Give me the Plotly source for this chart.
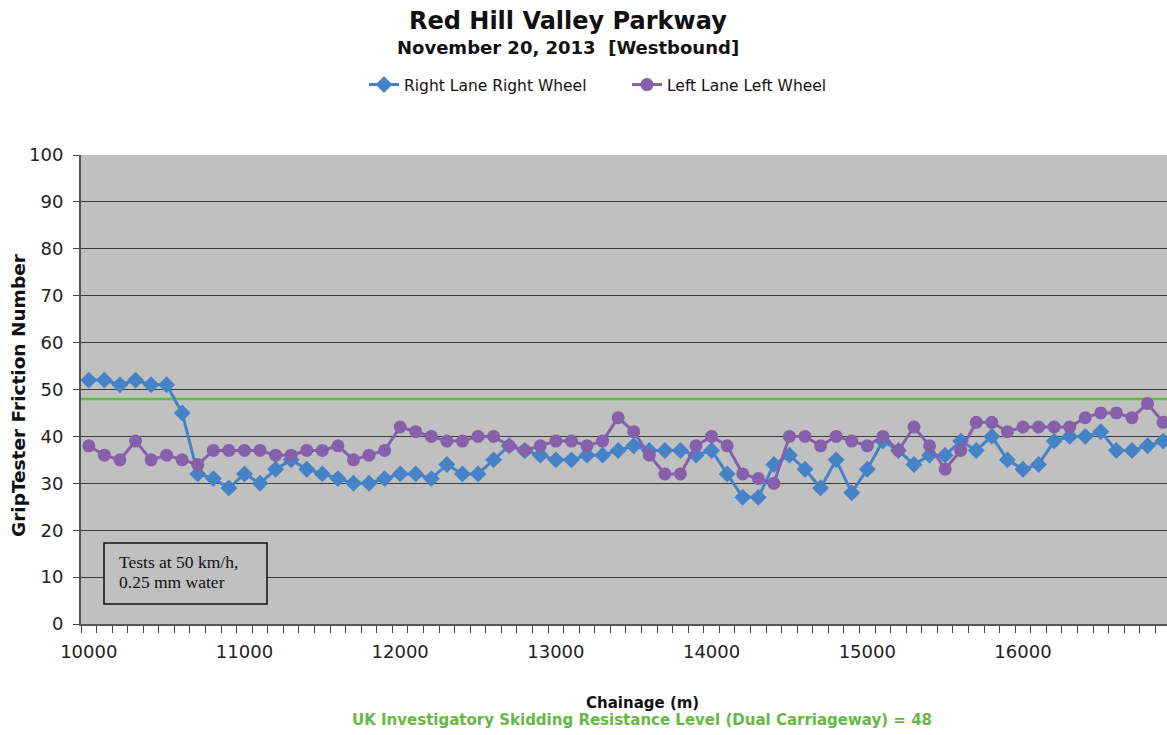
"""
GripTester friction chart, Red Hill Valley Parkway (westbound).
"""

import plotly.graph_objects as go

# Chainage categories, one reading every 100 m
chainage = list(range(10000, 17000, 100))
tick_values = [10000, 11000, 12000, 13000, 14000, 15000, 16000]

right_lane_right_wheel = [
    52, 52, 51, 52, 51, 51, 45, 32, 31, 29,
    32, 30, 33, 35, 33, 32, 31, 30, 30, 31,
    32, 32, 31, 34, 32, 32, 35, 38, 37, 36,
    35, 35, 36, 36, 37, 38, 37, 37, 37, 36,
    37, 32, 27, 27, 34, 36, 33, 29, 35, 28,
    33, 39, 37, 34, 36, 36, 39, 37, 40, 35,
    33, 34, 39, 40, 40, 41, 37, 37, 38, 39,
]
left_lane_left_wheel = [
    38, 36, 35, 39, 35, 36, 35, 34, 37, 37,
    37, 37, 36, 36, 37, 37, 38, 35, 36, 37,
    42, 41, 40, 39, 39, 40, 40, 38, 37, 38,
    39, 39, 38, 39, 44, 41, 36, 32, 32, 38,
    40, 38, 32, 31, 30, 40, 40, 38, 40, 39,
    38, 40, 37, 42, 38, 33, 37, 43, 43, 41,
    42, 42, 42, 42, 44, 45, 45, 44, 47, 43,
]
investigatory_level = 48

BLUE = "#4683c6"
PURPLE = "#8560ab"
GREEN = "#5cbf3c"
FONT = "DejaVu Sans"

# plot area in pixels: left 81, bottom 624, width 1086, height 469
def px(x):
    return (x - 81) / 1086


def py(y):
    return (624 - y) / 469


fig = go.Figure()

fig.add_trace(go.Scatter(
    x=chainage, y=right_lane_right_wheel, name="Right Lane Right Wheel",
    mode="lines+markers",
    line=dict(color=BLUE, width=3),
    marker=dict(symbol="diamond", size=13, color=BLUE),
))
fig.add_trace(go.Scatter(
    x=chainage, y=left_lane_left_wheel, name="Left Lane Left Wheel",
    mode="lines+markers",
    line=dict(color=PURPLE, width=3),
    marker=dict(symbol="circle", size=13, color=PURPLE),
))

# UK investigatory level line (below the data)
fig.add_hline(y=investigatory_level, line=dict(color=GREEN, width=2.5), layer="below")

# Test conditions box
fig.add_shape(type="rect", xref="paper", yref="paper",
              x0=px(104), x1=px(267), y0=py(604), y1=py(543),
              line=dict(color="#111111", width=1.5), fillcolor="#c0c0c0", layer="above")

annotations = [
    dict(text="<b>Red Hill Valley Parkway</b>", x=px(568), y=py(21),
         font=dict(size=24, color="#111111")),
    dict(text="<b>November 20, 2013&nbsp;&nbsp;[Westbound]</b>", x=px(568), y=py(48),
         font=dict(size=18, color="#111111")),
    dict(text="<b>GripTester Friction Number</b>", x=px(18), y=py(395),
         textangle=-90, font=dict(size=18.5, color="#111111")),
    dict(text="<b>Chainage (m)</b>", x=px(642), y=py(703),
         font=dict(size=15, color="#111111")),
    dict(text="<b>UK Investigatory Skidding Resistance Level (Dual Carriageway) = 48</b>",
         x=px(642), y=py(720), font=dict(size=15, color="#66b846")),
    dict(text="Tests at 50 km/h,", x=px(117), y=py(562), xanchor="left",
         font=dict(family="Liberation Serif", size=17.5, color="#111111")),
    dict(text="0.25 mm water", x=px(117), y=py(582), xanchor="left",
         font=dict(family="Liberation Serif", size=17.5, color="#111111")),
]
for a in annotations:
    a.setdefault("xanchor", "center")
    fig.add_annotation(xref="paper", yref="paper", yanchor="middle", showarrow=False, **a)

fig.update_layout(
    width=1167, height=735,
    margin=dict(l=81, r=0, t=155, b=111),
    paper_bgcolor="white",
    plot_bgcolor="#c0c0c0",
    font=dict(family=FONT, color="#222222"),
    showlegend=True,
    legend=dict(
        orientation="h", x=px(364), xanchor="left",
        y=py(85), yanchor="middle",
        font=dict(size=15.5, color="#111111"),
        entrywidth=218, entrywidthmode="pixels",
        bgcolor="rgba(0,0,0,0)",
    ),
)

fig.update_xaxes(
    range=[9950, 16925],
    tickvals=tick_values, tickformat="d",
    ticks="outside", ticklen=10, tickcolor="rgba(0,0,0,0)",
    tickfont=dict(size=18, color="#222222"),
    showgrid=False, zeroline=False,
    showline=True, linecolor="#555555", linewidth=2,
    minor=dict(tick0=9950, dtick=100, ticks="outside", ticklen=7,
               tickcolor="#444444", tickwidth=1, showgrid=False),
)
fig.update_yaxes(
    range=[0, 100], dtick=10,
    ticks="outside", ticklen=6, tickcolor="#444444",
    tickfont=dict(size=18, color="#222222"),
    ticklabelstandoff=6,
    showgrid=True, gridcolor="#3c3c3c", gridwidth=1.3,
    zeroline=False,
    showline=True, linecolor="#555555", linewidth=2,
)

# the page body has a default 8px margin; remove it so the figure fills the window
fig.write_html("out.html", config={"displayModeBar": False},
               post_script="document.body.style.margin='0';")
